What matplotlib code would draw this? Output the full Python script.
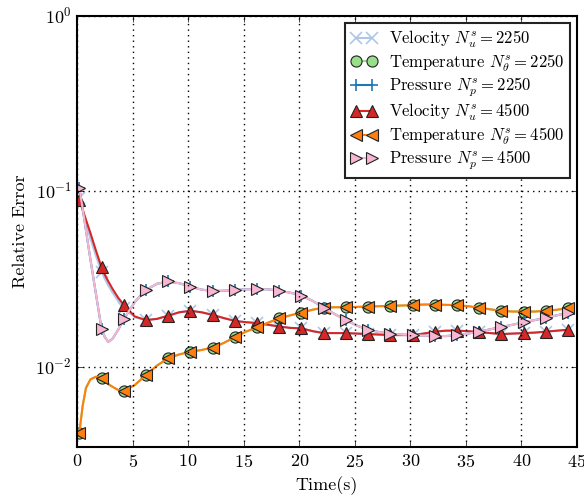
import matplotlib
matplotlib.use('Agg')
import matplotlib.pyplot as plt
from matplotlib.ticker import NullLocator

plt.style.use('classic')
plt.rcParams['font.family'] = 'cmr10'
plt.rcParams['mathtext.fontset'] = 'cm'
plt.rcParams['axes.formatter.use_mathtext'] = True
plt.rcParams['axes.unicode_minus'] = False

# sample times (s); markers sit on every 2 s
time = [0.2, 0.5, 0.8, 1.2, 1.7, 2.2, 2.5, 2.8, 3.2, 3.7, 4.2,
        5.2, 6.2, 7.2, 8.2, 9.2, 10.2, 11.2, 12.2, 13.2, 14.2,
        15.2, 16.2, 17.2, 18.2, 19.2, 20.2, 21.2, 22.2, 23.2, 24.2,
        25.2, 26.2, 27.2, 28.2, 29.2, 30.2, 31.2, 32.2, 33.2, 34.2,
        35.2, 36.2, 37.2, 38.2, 39.2, 40.2, 41.2, 42.2, 43.2, 44.2]

## Ns = 4500
vel_4500 = [0.090, 0.079, 0.069, 0.058, 0.046, 0.037, 0.0335, 0.0308, 0.0278, 0.0248, 0.0226,
            0.0194, 0.0185, 0.0188, 0.0196, 0.0205, 0.0209, 0.0205, 0.0198, 0.0190, 0.0183,
            0.0180, 0.0178, 0.0174, 0.0170, 0.0167, 0.0166, 0.0160, 0.0156, 0.0156, 0.0156,
            0.0155, 0.0154, 0.0153, 0.0152, 0.0152, 0.0152, 0.0155, 0.0159, 0.0161, 0.0161,
            0.0160, 0.0158, 0.0156, 0.0154, 0.0155, 0.0156, 0.0157, 0.0159, 0.0161, 0.0163]
temp_4500 = [0.0042, 0.0060, 0.0076, 0.0085, 0.0088, 0.0086, 0.0083, 0.0080, 0.0077, 0.0074, 0.0073,
             0.0079, 0.0090, 0.0102, 0.0112, 0.0118, 0.0122, 0.0125, 0.0129, 0.0137, 0.0148,
             0.0159, 0.0168, 0.0179, 0.0189, 0.0197, 0.0204, 0.0212, 0.0218, 0.0219, 0.0219,
             0.0220, 0.0221, 0.0222, 0.0223, 0.0224, 0.0225, 0.0227, 0.0227, 0.0226, 0.0225,
             0.0222, 0.0218, 0.0213, 0.0209, 0.0207, 0.0207, 0.0207, 0.0209, 0.0212, 0.0216]
pres_4500 = [0.105, 0.080, 0.060, 0.041, 0.026, 0.0165, 0.0148, 0.0139, 0.0145, 0.0163, 0.0187,
             0.0235, 0.0275, 0.0298, 0.0307, 0.0300, 0.0287, 0.0276, 0.0271, 0.0272, 0.0274,
             0.0277, 0.0278, 0.0277, 0.0272, 0.0265, 0.0255, 0.0238, 0.0218, 0.0200, 0.0185,
             0.0172, 0.0163, 0.0158, 0.0155, 0.0153, 0.0152, 0.0151, 0.0150, 0.0150, 0.0152,
             0.0155, 0.0159, 0.0164, 0.0169, 0.0174, 0.0180, 0.0185, 0.0191, 0.0197, 0.0204]

## Ns = 2250
vel_2250 = [0.092, 0.078, 0.066, 0.054, 0.043, 0.035, 0.0318, 0.0292, 0.0265, 0.0238, 0.0218,
            0.0192, 0.0185, 0.0188, 0.0196, 0.0205, 0.0209, 0.0205, 0.0198, 0.0190, 0.0183,
            0.0180, 0.0178, 0.0174, 0.0170, 0.0167, 0.0166, 0.0160, 0.0156, 0.0156, 0.0156,
            0.0155, 0.0154, 0.0153, 0.0152, 0.0152, 0.0152, 0.0155, 0.0159, 0.0161, 0.0161,
            0.0160, 0.0158, 0.0156, 0.0154, 0.0155, 0.0156, 0.0157, 0.0159, 0.0161, 0.0163]
temp_2250 = temp_4500
pres_2250 = pres_4500

marks = [i for i, t in enumerate(time) if abs((t - 0.2) / 2 - round((t - 0.2) / 2)) < 1e-6]

fig = plt.figure(figsize=(5.84, 5.0), dpi=100, facecolor='white')
ax = fig.add_axes([0.132, 0.106, 0.856, 0.862])

style = dict(lw=1.5, ms=8, mew=0.8, mec='#222222', markevery=marks)
ax.plot(time, vel_2250, color='#aec7e8', marker='x', mec='#aec7e8', mew=1.2,
        lw=1.5, ms=8, markevery=marks, label=r'Velocity $N_u^s = 2250$')
ax.plot(time, temp_2250, color='#98df8a', marker='o', label=r'Temperature $N_\theta^s = 2250$', **style)
ax.plot(time, pres_2250, color='#1f77b4', marker='+', mec='#1f77b4', mew=1.2,
        lw=1.5, ms=8, markevery=marks, label=r'Pressure $N_p^s = 2250$')
ax.plot(time, vel_4500, color='#d62728', marker='^', label=r'Velocity $N_u^s = 4500$', **style)
ax.plot(time, temp_4500, color='#ff7f0e', marker='<', label=r'Temperature $N_\theta^s = 4500$', **style)
ax.plot(time, pres_4500, color='#f7b6d2', marker='>', label=r'Pressure $N_p^s = 4500$', **style)

ax.set_yscale('log')
ax.set_xlim(0, 45)
ax.set_ylim(0.0035, 1)
ax.set_xticks(range(0, 46, 5))
ax.yaxis.set_minor_locator(NullLocator())
ax.tick_params(labelsize=13)
for s in ax.spines.values():
    s.set_linewidth(1.5)
ax.grid(True, which='major', color='black', linestyle=':', linewidth=1.0)

ax.set_xlabel('Time(s)', fontsize=13)
ax.set_ylabel('Relative Error', fontsize=13)

leg = ax.legend(loc='upper right', fontsize=12, numpoints=2, handlelength=1.6,
                handletextpad=0.7, borderaxespad=0.4, labelspacing=0.15,
                borderpad=0.35, fancybox=False)
leg.get_frame().set_linewidth(1.5)
leg.get_frame().set_edgecolor('#222222')

fig.savefig('out.png', dpi=100, facecolor='white')
